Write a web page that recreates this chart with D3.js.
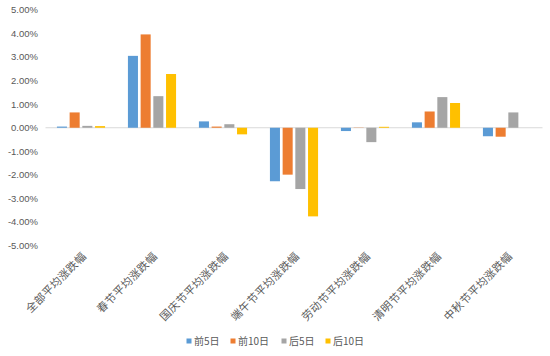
<!DOCTYPE html>
<html><head><meta charset="utf-8">
<script src="https://cdn.jsdelivr.net/npm/d3@7"></script>
<style>body{margin:0;background:#fff}svg{display:block}</style>
</head><body>
<svg id="c" width="550" height="356"></svg>
<script>
const categories = ["全部平均涨跌幅","春节平均涨跌幅","国庆节平均涨跌幅","端午节平均涨跌幅","劳动节平均涨跌幅","清明节平均涨跌幅","中秋节平均涨跌幅"];
const seriesNames = ["前5日","前10日","后5日","后10日"];
const pre5  = [0.05, 3.05, 0.27, -2.27, -0.14, 0.23, -0.36];
const pre10 = [0.65, 3.96, 0.05, -1.99, -0.01, 0.69, -0.38];
const post5 = [0.08, 1.34, 0.15, -2.60, -0.61, 1.30, 0.65];
const post10= [0.07, 2.28, -0.28, -3.76, 0.04, 1.05, 0.00];
const yTicks = [5,4,3,2,1,0,-1,-2,-3,-4,-5];
const colors = ["#5B9BD5","#ED7D31","#A5A5A5","#FFC000"];
const series = [pre5, pre10, post5, post10];

const svg = d3.select("#c");
const y = d3.scaleLinear().domain([-5,5]).range([245.6, 9.9]);
const x0 = d3.scaleBand().domain(categories).range([45.5, 542.5]).paddingInner(0).paddingOuter(0);
const x1 = d3.scaleBand().domain(seriesNames).range([0, x0.bandwidth()]).paddingInner(0.21).paddingOuter(0.9);

// y labels
svg.append("g").selectAll("text").data(yTicks).join("text")
  .attr("x", 38).attr("y", d => y(d)).attr("dy", "0.35em")
  .attr("text-anchor", "end")
  .attr("font-family", "Liberation Sans, Arial, sans-serif").attr("font-size", 9.5)
  .attr("fill", "#595959")
  .text(d => d.toFixed(2) + "%");

// zero line
svg.append("line").attr("x1", 45.5).attr("x2", 542.5).attr("y1", y(0)).attr("y2", y(0))
  .attr("stroke", "#D9D9D9").attr("stroke-width", 1);

// bars
const g = svg.append("g");
categories.forEach((c, i) => {
  series.forEach((s, j) => {
    const v = s[i];
    g.append("rect")
      .attr("x", x0(c) + x1(seriesNames[j]))
      .attr("width", x1.bandwidth())
      .attr("y", y(Math.max(0, v)))
      .attr("height", Math.abs(y(v) - y(0)))
      .attr("fill", colors[j]);
  });
});

// category labels
svg.append("g").selectAll("text").data(categories).join("text")
  .attr("transform", d => `translate(${x0(d) + x0.bandwidth()/2 + 6},${257}) rotate(-45)`)
  .attr("text-anchor", "end")
  .attr("font-family", "Noto Sans CJK SC, sans-serif").attr("font-size", 11)
  .attr("letter-spacing", 0.4)
  .attr("fill", "#595959")
  .text(d => d);

// legend
const legX = [189, 233, 284, 328];
const leg = svg.append("g").selectAll("g").data(seriesNames).join("g")
  .attr("transform", (d, i) => `translate(${legX[i]},341)`);
leg.append("rect").attr("x", -2.5).attr("y", -2.5).attr("width", 5).attr("height", 5)
  .attr("fill", (d, i) => colors[i]);
leg.append("text").attr("x", 5).attr("y", 0).attr("dy", "0.35em")
  .attr("font-family", "Noto Sans CJK SC, sans-serif").attr("font-size", 10)
  .attr("fill", "#595959").text(d => d);
</script>
</body></html>
